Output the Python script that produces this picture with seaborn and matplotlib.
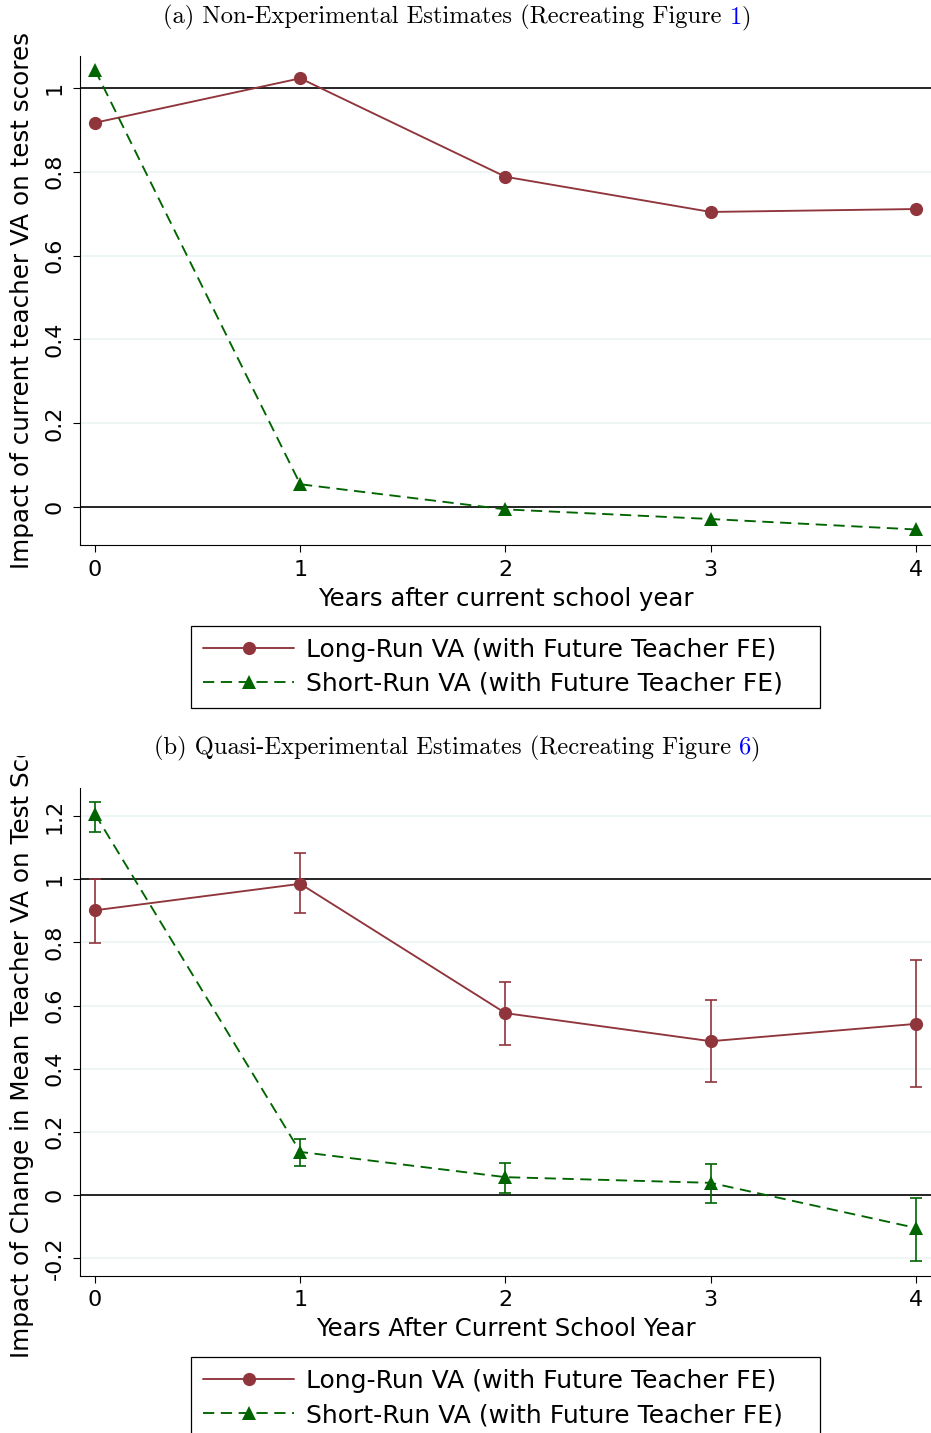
import os
import matplotlib
matplotlib.use("Agg")
import matplotlib.pyplot as plt
from matplotlib.font_manager import FontProperties
from matplotlib.offsetbox import TextArea, HPacker, AnnotationBbox
from matplotlib.lines import Line2D
from matplotlib.transforms import Bbox
import seaborn as sns

# Years after the current school year
years = [0, 1, 2, 3, 4]

# (a) Non-experimental estimates
a_long = [0.917, 1.023, 0.788, 0.704, 0.711]
a_short = [1.043, 0.054, -0.006, -0.029, -0.054]

# (b) Quasi-experimental estimates with 95% confidence intervals
b_long = [0.902, 0.986, 0.576, 0.487, 0.542]
b_long_lo = [0.798, 0.892, 0.475, 0.357, 0.341]
b_long_hi = [1.001, 1.083, 0.674, 0.618, 0.745]
b_short = [1.207, 0.136, 0.056, 0.038, -0.105]
b_short_lo = [1.151, 0.091, 0.006, -0.026, -0.209]
b_short_hi = [1.246, 0.177, 0.101, 0.097, -0.009]

a_yticks = [0, 0.2, 0.4, 0.6, 0.8, 1]
a_yticklabels = ["0", "0.2", "0.4", "0.6", "0.8", "1"]
b_yticks = [-0.2, 0, 0.2, 0.4, 0.6, 0.8, 1, 1.2]
b_yticklabels = ["-0.2", "0", "0.2", "0.4", "0.6", "0.8", "1", "1.2"]

long_label = "Long-Run VA (with Future Teacher FE)"
short_label = "Short-Run VA (with Future Teacher FE)"

MAROON = "#90353B"
GREEN = "#006400"
GRID = "#EAF2F3"

sns.set_theme(style="white")
plt.rcParams["font.family"] = ["DejaVu Sans"]
plt.rcParams.update({"text.color": "black", "axes.labelcolor": "black",
                     "xtick.color": "black", "ytick.color": "black"})

TICK_FS = 16.0
XLAB_FS = 17.6
YLAB_FS = 17.7
LEG_FS = 18.0
LW = 1.35
DASH = (6.0, 3.5)

W, H = 931, 1433
fig = plt.figure(figsize=(W / 100, H / 100), dpi=100)


def px_axes(left, top, right, bottom):
    return fig.add_axes([left / W, 1 - bottom / H, (right - left) / W, (bottom - top) / H])


def draw_panel(ax, long_y, short_y, ylim, yticks, yticklabels, ylabel, xlabel, ci=None):
    ax.set_xlim(-0.0731, 4.0731)
    ax.set_ylim(*ylim)
    for t in yticks:
        if t in (0, 1):
            ax.axhline(t, color="black", lw=1.2, zorder=1)
        else:
            ax.axhline(t, color=GRID, lw=1.1, zorder=0)
    if ci is not None:
        (llo, lhi), (slo, shi) = ci
        ax.errorbar(years, long_y, yerr=[[m - l for m, l in zip(long_y, llo)],
                                          [h - m for m, h in zip(long_y, lhi)]],
                    fmt="none", ecolor=MAROON, elinewidth=1.2, capsize=4.3, capthick=1.2, zorder=2)
        ax.errorbar(years, short_y, yerr=[[m - l for m, l in zip(short_y, slo)],
                                           [h - m for m, h in zip(short_y, shi)]],
                    fmt="none", ecolor=GREEN, elinewidth=1.2, capsize=4.3, capthick=1.2, zorder=2)
    sns.lineplot(x=years, y=long_y, ax=ax, color=MAROON, marker="o", markersize=9.5,
                 markeredgewidth=0, linewidth=LW, zorder=3)
    sns.lineplot(x=years, y=short_y, ax=ax, color=GREEN, marker="^", markersize=10,
                 markeredgewidth=0, linewidth=LW, linestyle="--", zorder=3)
    ax.lines[-1].set_dashes(DASH)

    ax.set_xticks(years)
    ax.set_xticklabels([str(y) for y in years], fontsize=TICK_FS)
    ax.set_yticks(yticks)
    ax.set_yticklabels(yticklabels, fontsize=TICK_FS, rotation=90, va="center")
    ax.tick_params(axis="both", direction="out", length=5, width=0.8, color="black",
                   bottom=True, left=True)
    ax.tick_params(axis="y", pad=6)
    ax.tick_params(axis="x", pad=5.5)
    for side in ("top", "right"):
        ax.spines[side].set_visible(False)
    for side in ("left", "bottom"):
        ax.spines[side].set_color("black")
        ax.spines[side].set_linewidth(0.8)
    ax.set_xlabel(xlabel, fontsize=XLAB_FS, labelpad=5)
    ax.set_ylabel(ylabel, fontsize=YLAB_FS, va="center")
    ax.yaxis.set_label_coords((22.5 - 80) / 851, 0.5)


def legend(top_px):
    handles = [
        Line2D([], [], color=MAROON, lw=LW, marker="o", markersize=9.5, markeredgewidth=0),
        Line2D([], [], color=GREEN, lw=LW, marker="^", markersize=10, markeredgewidth=0,
               dashes=DASH),
    ]
    leg = fig.legend(handles, [long_label, short_label], loc="upper left",
                     bbox_to_anchor=(191 / W, 1 - top_px / H, 629 / W, 0), mode="expand",
                     frameon=True, fancybox=False, edgecolor="black", framealpha=1,
                     borderaxespad=0, fontsize=LEG_FS, handlelength=3.64, handletextpad=0.5,
                     labelspacing=0.4, borderpad=0.48)
    leg.get_frame().set_linewidth(0.9)


cm_path = os.path.join(matplotlib.get_data_path(), "fonts", "ttf", "cmr10.ttf")
cm = FontProperties(fname=cm_path, size=17.7)


def title(parts, center_px):
    areas = [TextArea(t, textprops=dict(fontproperties=cm, color=c)) for t, c in parts]
    box = HPacker(children=areas, pad=0, sep=0, align="baseline")
    ab = AnnotationBbox(box, (center_px[0], H - center_px[1]), xycoords="figure pixels",
                        box_alignment=(0.5, 0.5), frameon=False)
    fig.add_artist(ab)


ax_a = px_axes(80, 55.7, 931, 545)
ax_b = px_axes(80, 787.6, 931, 1275.9)

draw_panel(ax_a, a_long, a_short, (-0.091, 1.077), a_yticks, a_yticklabels,
           "Impact of current teacher VA on test scores", "Years after current school year")
draw_panel(ax_b, b_long, b_short, (-0.257, 1.291), b_yticks, b_yticklabels,
           "Impact of Change in Mean Teacher VA on Test Scores", "Years After Current School Year",
           ci=((b_long_lo, b_long_hi), (b_short_lo, b_short_hi)))

# the long y label of panel (b) is cut off below the panel title
lab = ax_b.yaxis.label
lab.set_clip_box(Bbox([[0, 0], [W, H - 756]]))
lab.set_clip_on(True)

legend(626)
legend(1357)

title([("(a) Non-Experimental Estimates (Recreating Figure ", "black"), ("1", "blue"), (")", "black")],
      (457, 17.5))
title([("(b) Quasi-Experimental Estimates (Recreating Figure ", "black"), ("6", "blue"), (")", "black")],
      (457, 748))

fig.savefig("out.png", dpi=100, facecolor="white")
